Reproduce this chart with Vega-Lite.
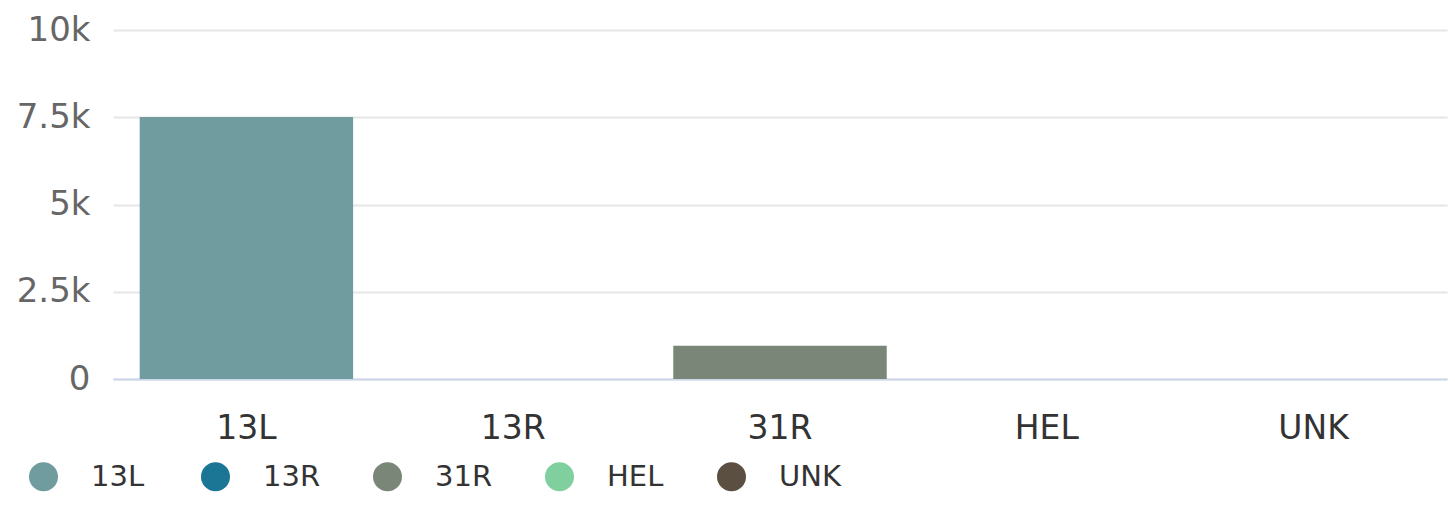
{
  "$schema": "https://vega.github.io/schema/vega-lite/v6.json",
  "width": 1334,
  "height": 349,
  "autosize": {"type": "none"},
  "padding": {"left": 113, "top": 30, "right": 8, "bottom": 136},
  "background": "white",
  "data": {"values": [
    {"runway": "13L", "count": 7510},
    {"runway": "13R", "count": 0},
    {"runway": "31R", "count": 950},
    {"runway": "HEL", "count": 0},
    {"runway": "UNK", "count": 0}
  ]},
  "mark": {"type": "bar"},
  "encoding": {
    "x": {
      "field": "runway", "type": "nominal", "sort": null,
      "scale": {"paddingInner": 0.2, "paddingOuter": 0.1},
      "axis": {"title": null, "labelAngle": 0, "labelFont": "DejaVu Sans", "labelFontSize": 33, "labelColor": "#333333", "labelPadding": 33, "ticks": false, "domainColor": "#ccd6eb", "domainWidth": 2, "grid": false}
    },
    "y": {
      "field": "count", "type": "quantitative",
      "scale": {"domain": [0, 10000], "nice": false},
      "axis": {"title": null, "values": [0, 2500, 5000, 7500, 10000], "labelExpr": "datum.value == 0 ? '0' : format(datum.value/1000, '~g') + 'k'", "labelFont": "DejaVu Sans", "labelFontSize": 34, "labelColor": "#666666", "labelPadding": 23, "ticks": false, "domain": false, "gridColor": "#e6e6e6", "gridWidth": 2}
    },
    "color": {
      "field": "runway", "type": "nominal", "sort": null,
      "scale": {"domain": ["13L", "13R", "31R", "HEL", "UNK"], "range": ["#719c9f", "#1b7595", "#7a8677", "#80d09f", "#5b4f42"]},
      "legend": {"title": null, "orient": "none", "legendX": -84, "legendY": 432, "direction": "horizontal", "columns": 5, "symbolType": "circle", "symbolSize": 841, "symbolStrokeWidth": 0, "symbolOpacity": 1, "labelFont": "DejaVu Sans", "labelFontSize": 29, "labelColor": "#333333", "labelOffset": 33, "gridAlign": "all", "columnPadding": 48}
    }
  },
  "config": {"view": {"stroke": null}}
}
